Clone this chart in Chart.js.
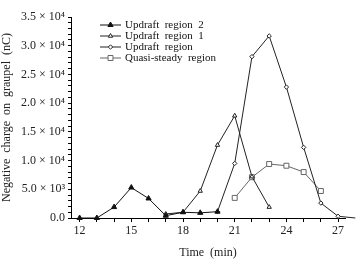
<!DOCTYPE html>
<html lang="en">
<head>
    <meta charset="UTF-8" />
    <title>Negative charge on graupel</title>
    <script src="https://cdn.jsdelivr.net/npm/chart.js"></script>
    <style>
        html, body { margin: 0; padding: 0; background: #fff; }
    </style>
</head>
<body>
    <canvas id="chargeChart" width="360" height="260"></canvas>

    <script>
        // Data (time in min, charge in nC)
        const seriesNames = ['Updraft region 2', 'Updraft region 1', 'Updraft region', 'Quasi-steady region'];

        const timeUp2 = [12, 13, 14, 15, 16, 17, 18, 19, 20];
        const chargeUp2 = [0, 0, 1900, 5300, 3400, 400, 1000, 900, 1100];

        const timeUp1 = [17, 18, 19, 20, 21, 22, 23];
        const chargeUp1 = [700, 1000, 4700, 12700, 17800, 7200, 1900];

        const timeUp = [20, 21, 22, 23, 24, 25, 26, 27, 28];
        const chargeUp = [1100, 9500, 28100, 31700, 22800, 12300, 2600, 300, 0];

        const timeQs = [21, 22, 23, 24, 25, 26];
        const chargeQs = [3500, 7100, 9400, 9100, 8000, 4700];

        const xLabelTicks = [12, 15, 18, 21, 24, 27];

        const FONT = '"Liberation Serif", "DejaVu Serif", serif';

        function toPoints(xs, ys) {
            return xs.map((x, i) => ({ x: x, y: ys[i] }));
        }

        function formatCharge(v) {
            if (v === 0) return '0.0';
            if (v < 10000) return (v / 1000).toFixed(1) + ' × 10³';
            return (v / 10000).toFixed(1) + ' × 10⁴';
        }

        // legend drawn inside the plot, top left
        const innerLegend = {
            id: 'innerLegend',
            afterDraw(chart) {
                const ctx = chart.ctx;
                ctx.save();
                ctx.font = '11px ' + FONT;
                ctx.textBaseline = 'middle';
                chart.data.datasets.forEach((ds, i) => {
                    const y = 25 + i * 11;
                    ctx.strokeStyle = ds.borderColor;
                    ctx.lineWidth = 1;
                    ctx.beginPath();
                    ctx.moveTo(100, y);
                    ctx.lineTo(121, y);
                    ctx.stroke();
                    ctx.fillStyle = ds.pointBackgroundColor;
                    ctx.strokeStyle = ds.pointBorderColor;
                    Chart.helpers.drawPoint(ctx, {
                        pointStyle: ds.pointStyle,
                        radius: ds.pointRadius,
                        borderWidth: 1
                    }, 110.5, y);
                    ctx.fillStyle = '#111';
                    ctx.fillText(ds.label.replace(/ /g, '  '), 125, y);
                });
                ctx.restore();
            }
        };

        function makeSet(label, pts, style, radius, fill, border) {
            return {
                label: label,
                data: pts,
                borderColor: border,
                borderWidth: 1,
                pointStyle: style,
                pointRadius: radius,
                pointBackgroundColor: fill,
                pointBorderColor: border,
                pointBorderWidth: 1,
                fill: false,
                tension: 0,
                clip: false
            };
        }

        const ctx = document.getElementById('chargeChart').getContext('2d');
        new Chart(ctx, {
            type: 'line',
            data: {
                datasets: [
                    makeSet(seriesNames[0], toPoints(timeUp2, chargeUp2), 'triangle', 3, '#111', '#111'),
                    makeSet(seriesNames[1], toPoints(timeUp1, chargeUp1), 'triangle', 2.5, '#fff', '#222'),
                    makeSet(seriesNames[2], toPoints(timeUp, chargeUp), 'rectRot', 2.2, '#fff', '#222'),
                    makeSet(seriesNames[3], toPoints(timeQs, chargeQs), 'rect', 3.5, '#fff', '#666')
                ]
            },
            options: {
                responsive: false,
                animation: false,
                layout: { padding: { top: 17, right: 15, left: 0, bottom: 0 } },
                plugins: {
                    legend: { display: false },
                    tooltip: { enabled: false }
                },
                scales: {
                    x: {
                        type: 'linear',
                        min: 11.5,
                        max: 27.4,
                        afterBuildTicks: (scale) => {
                            scale.ticks = [];
                            for (let t = 12; t <= 27; t++) scale.ticks.push({ value: t });
                        },
                        afterFit: (scale) => { scale.height = 42; },
                        border: { color: '#000', width: 1 },
                        grid: { drawOnChartArea: false, tickLength: 4, color: '#000' },
                        ticks: {
                            autoSkip: false,
                            maxRotation: 0,
                            padding: 2,
                            color: '#222',
                            font: { family: FONT, size: 12 },
                            callback: (v) => xLabelTicks.includes(v) ? String(v) : ''
                        },
                        title: {
                            display: true,
                            text: 'Time  (min)',
                            color: '#222',
                            font: { family: FONT, size: 12 },
                            padding: { top: 0, bottom: 0 }
                        }
                    },
                    y: {
                        min: 0,
                        max: 35000,
                        afterBuildTicks: (scale) => {
                            scale.ticks = [];
                            for (let v = 0; v <= 35000; v += 1000) scale.ticks.push({ value: v });
                        },
                        afterFit: (scale) => { scale.width = 71; },
                        border: { color: '#000', width: 1 },
                        grid: { drawOnChartArea: false, tickLength: 3, color: '#000' },
                        ticks: {
                            autoSkip: false,
                            padding: 3,
                            color: '#222',
                            font: { family: FONT, size: 12 },
                            callback: (v) => v % 5000 === 0 ? formatCharge(v) : ''
                        },
                        title: {
                            display: true,
                            text: 'Negative  charge  on  graupel  (nC)',
                            color: '#222',
                            font: { family: FONT, size: 12 },
                            padding: { top: 0, bottom: 0 }
                        }
                    }
                }
            },
            plugins: [innerLegend]
        });
    </script>
</body>
</html>
